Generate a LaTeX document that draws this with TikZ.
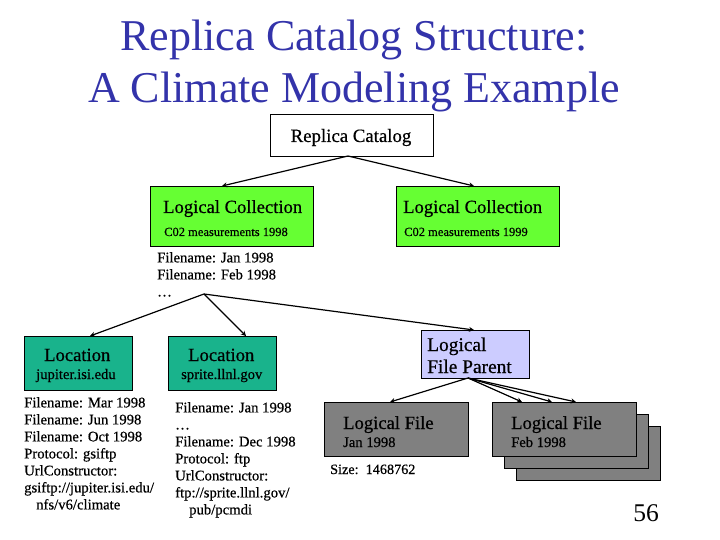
\documentclass[tikz,border=0pt]{standalone}
\usepackage{fontspec}
\setmainfont{Liberation Serif}
\newfontfamily\heavy[FakeBold=0.5]{Liberation Serif}
\usetikzlibrary{arrows.meta}
\definecolor{titleblue}{HTML}{3333AA}
\definecolor{lcgreen}{HTML}{66FF33}
\definecolor{locteal}{HTML}{19B38C}
\definecolor{parentblue}{HTML}{CCCCFF}
\definecolor{filegray}{HTML}{808080}
\tikzset{
 x=1pt,y=-1pt,
 boxbase/.style={draw=black,line width=0.8pt,rectangle,inner sep=0pt,anchor=north west},
 conn/.style={draw=black,line width=1.2pt,-{Stealth[length=5pt,width=5pt]}},
 bigt/.style={anchor=base west,inner sep=0pt,font=\heavy\fontsize{18.6}{19}\selectfont},
 smallt/.style={anchor=base west,inner sep=0pt,font=\heavy\fontsize{12.5}{13}\selectfont},
 midt/.style={anchor=base west,inner sep=0pt,font=\heavy\fontsize{14.6}{15}\selectfont},
 listt/.style={anchor=north west,inner sep=0pt,align=left,font=\heavy\fontsize{14.7}{17}\selectfont},
 titlet/.style={anchor=base,inner sep=0pt,text=titleblue,font=\fontsize{44}{44}\selectfont},
}
\begin{document}
\begin{tikzpicture}
\useasboundingbox (0,0) rectangle (720,540);
\node[titlet] (t1) at (354,51) {Replica Catalog Structure:};
\node[titlet] (t2) at (354,103) {A Climate Modeling Example};
\node[boxbase,minimum width=163pt,minimum height=42.5pt] (rc) at (270,114) {};
\node[anchor=base,inner sep=0pt,font=\heavy\fontsize{18.8}{19}\selectfont] (rct) at (351,142) {Replica Catalog};
\node[boxbase,fill=lcgreen,minimum width=162.5pt,minimum height=60pt] (lc1) at (150,186) {};
\node[boxbase,fill=lcgreen,minimum width=162.5pt,minimum height=60pt] (lc2) at (396,186) {};
\node[bigt] (lc1t) at (163,213) {Logical Collection};
\node[bigt] (lc2t) at (403,213) {Logical Collection};
\node[smallt] (lc1s) at (164,236) {C02 measurements 1998};
\node[smallt] (lc2s) at (404,236) {C02 measurements 1999};
\node[listt] (fl) at (157,252) {Filename: Jan 1998\\Filename: Feb 1998\\…};
\coordinate (hub) at (204,294);
\node[boxbase,fill=locteal,minimum width=108pt,minimum height=54pt] (loc1) at (24,336) {};
\node[boxbase,fill=locteal,minimum width=108pt,minimum height=54pt] (loc2) at (168,336) {};
\node[bigt] (loc1t) at (44,361) {Location};
\node[bigt] (loc2t) at (188,361) {Location};
\node[midt] (loc1s) at (36,379) {jupiter.isi.edu};
\node[midt] (loc2s) at (181,379) {sprite.llnl.gov};
\node[boxbase,fill=parentblue,minimum width=108pt,minimum height=48pt] (lfp) at (420.5,330) {};
\node[bigt,font=\heavy\fontsize{19.4}{19}\selectfont] (lfpa) at (427,351) {Logical};
\node[bigt,font=\heavy\fontsize{19.4}{19}\selectfont] (lfpb) at (427,373) {File Parent};
\node[listt] (l1) at (24,397) {Filename: Mar 1998\\Filename: Jun 1998\\Filename: Oct 1998\\Protocol: gsiftp\\UrlConstructor:\\gsiftp://jupiter.isi.edu/\\\hspace*{12pt}nfs/v6/climate};
\node[listt] (l2) at (175,402) {Filename: Jan 1998\\…\\Filename: Dec 1998\\Protocol: ftp\\UrlConstructor:\\ftp://sprite.llnl.gov/\\\hspace*{14pt}pub/pcmdi};
\node[boxbase,fill=filegray,minimum width=144pt,minimum height=54pt] (f1) at (324,402) {};
\node[boxbase,fill=filegray,minimum width=144pt,minimum height=54pt] (f2c) at (516,426) {};
\node[boxbase,fill=filegray,minimum width=144pt,minimum height=54pt] (f2b) at (504,414) {};
\node[boxbase,fill=filegray,minimum width=144pt,minimum height=54pt] (f2) at (492,402) {};
\node[bigt] (f1t) at (343,429) {Logical File};
\node[bigt] (f2t) at (511,429) {Logical File};
\node[midt] (f1s) at (343,447) {Jan 1998};
\node[midt] (f2s) at (511,447) {Feb 1998};
\node[midt,font=\heavy\fontsize{14.2}{15}\selectfont] (sz) at (330,474) {Size:\ \ 1468762};
\node[anchor=base,inner sep=0pt,font=\fontsize{25.5}{26}\selectfont] (pg) at (646,521) {56};
\coordinate (a1) at (222,186);
\coordinate (a2) at (474,186);
\coordinate (b1) at (90,336);
\coordinate (b2) at (246,336);
\coordinate (b3) at (474,330);
\coordinate (c1) at (390,402);
\coordinate (c2) at (522,402);
\coordinate (c3) at (552,402);
\coordinate (c4) at (576,402);
\coordinate (rcb) at (348,156);
\coordinate (lfb) at (468,378);
\draw[conn] (rcb) -- (a1);
\draw[conn] (rcb) -- (a2);
\draw[conn] (hub) -- (b1);
\draw[conn] (hub) -- (b2);
\draw[conn] (hub) -- (b3);
\draw[conn] (lfb) -- (c1);
\draw[conn] (lfb) -- (c2);
\draw[conn] (lfb) -- (c3);
\draw[conn] (lfb) -- (c4);
\end{tikzpicture}
\end{document}
